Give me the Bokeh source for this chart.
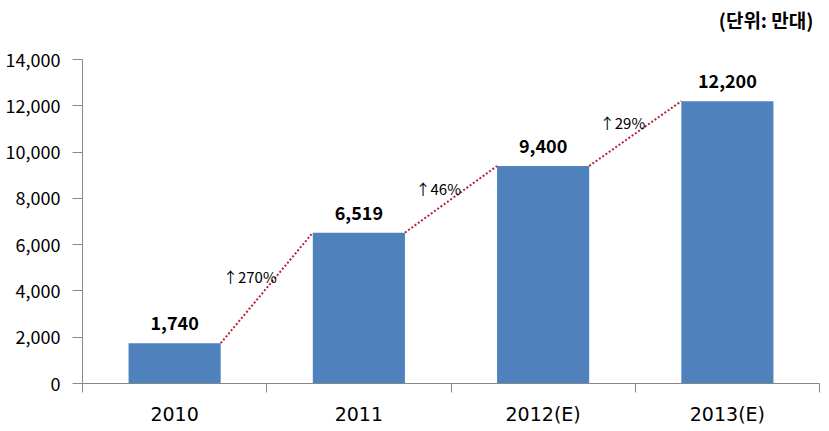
from bokeh.plotting import figure
from bokeh.models import (Range1d, LinearAxis, FixedTicker, NumeralTickFormatter,
                          Title, ColumnDataSource)
from bokeh.core.properties import value
from bokeh.embed import file_html
from bokeh.resources import INLINE

categories = ["2010", "2011", "2012(E)", "2013(E)"]
values = [1740, 6519, 9400, 12200]
value_labels = ["1,740", "6,519", "9,400", "12,200"]
growth_labels = ["↑270%", "↑46%", "↑29%"]
y_ticks = [0, 2000, 4000, 6000, 8000, 10000, 12000, 14000]
unit_label = "(단위: 만대)"

FONT = "Noto Sans CJK KR"
NUM_FONT = "DejaVu Sans"
BAR_W = 0.5

xs = [i + 0.5 for i in range(len(categories))]

p = figure(width=829, height=431, output_backend="svg", toolbar_location=None,
           x_range=Range1d(0, len(categories)), y_range=Range1d(0, 14000),
           x_axis_location=None, y_axis_location=None,
           min_border_left=82, min_border_right=10, min_border_top=59,
           min_border_bottom=48)
p.outline_line_color = None
p.xgrid.visible = False
p.ygrid.visible = False
p.background_fill_color = "white"
p.border_fill_color = "white"

# y axis
yax = LinearAxis(ticker=FixedTicker(ticks=y_ticks),
                 formatter=NumeralTickFormatter(format="0,0"))
yax.axis_line_color = "#868686"
yax.major_tick_line_color = "#868686"
yax.major_tick_out = 10
yax.major_tick_in = 0
yax.minor_tick_line_color = None
yax.major_label_standoff = 12
yax.major_label_text_font = FONT
yax.major_label_text_font_size = "18px"
yax.major_label_text_color = "black"
p.add_layout(yax, "left")

# x axis: labels at category centres, tick marks at boundaries
xax = LinearAxis(ticker=FixedTicker(ticks=xs, minor_ticks=list(range(len(categories) + 1))),
                 major_label_overrides={x: c for x, c in zip(xs, categories)})
xax.axis_line_color = "#868686"
xax.major_tick_line_color = None
xax.major_tick_out = 0
xax.major_tick_in = 0
xax.minor_tick_line_color = "#868686"
xax.minor_tick_out = 9
xax.minor_tick_in = 0
xax.major_label_standoff = 10
xax.major_label_text_font = NUM_FONT
xax.major_label_text_font_size = "19px"
xax.major_label_text_color = "black"
p.add_layout(xax, "below")

src = ColumnDataSource(dict(x=xs, top=values, lab=value_labels))
p.vbar(x="x", top="top", width=BAR_W, source=src, fill_color="#4F81BD",
       line_color=None)

p.text(x="x", y="top", text="lab", source=src, text_align="center",
       text_baseline="middle", y_offset=-20, text_font=value(FONT),
       text_font_style="bold", text_font_size="18px", text_color="black")

# dotted growth connectors
x0 = [x + BAR_W / 2 for x in xs[:-1]]
x1 = [x - BAR_W / 2 for x in xs[1:]]
y0 = values[:-1]
y1 = values[1:]
p.segment(x0=x0, y0=y0, x1=x1, y1=y1, line_color="#B8203C", line_width=2,
          line_dash="2 2")

mx = [(a + b) / 2 for a, b in zip(x0, x1)]
my = [(a + b) / 2 for a, b in zip(y0, y1)]
p.text(x=mx, y=my, text=growth_labels, text_align="right", text_baseline="middle",
       x_offset=10, y_offset=-11, text_font=value(FONT), text_font_size="15px",
       text_color="black")

p.add_layout(Title(text=unit_label + "\n ", align="right", text_font=FONT,
                   text_font_style="bold", text_font_size="19px",
                   text_color="black", offset=6, standoff=0), "above")

open("out.html", "w").write(file_html(p, INLINE))
